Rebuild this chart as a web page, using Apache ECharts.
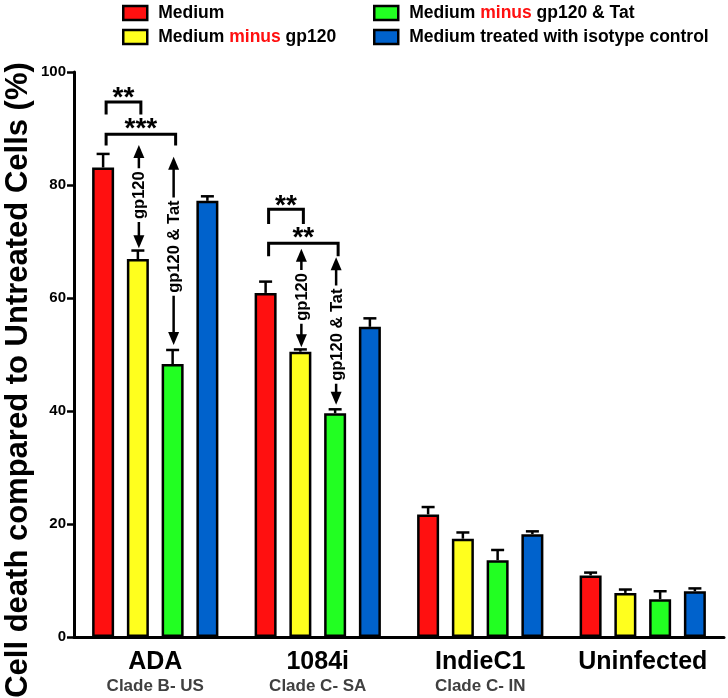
<!DOCTYPE html>
<html><head><meta charset="utf-8">
<script src="https://cdn.jsdelivr.net/npm/echarts@6/dist/echarts.min.js"></script>
<style>html,body{margin:0;padding:0;background:#fff}#c{width:728px;height:698px}</style>
</head><body><div id="c"></div>
<script>
// ---- data ----
const categories = ['ADA', '1084i', 'IndieC1', 'Uninfected'];
const clades = ['Clade B- US', 'Clade C- SA', 'Clade C- IN', ''];
const seriesNames = ['Medium', 'Medium minus gp120', 'Medium minus gp120 & Tat', 'Medium treated with isotype control'];
const medium = [83.1, 60.9, 21.7, 10.9];
const minusGp120 = [66.9, 50.5, 17.4, 7.8];
const minusGp120Tat = [48.3, 39.6, 13.6, 6.7];
const isotype = [77.2, 54.9, 18.2, 8.1];
const mediumErr = [2.4, 2.0, 1.3, 0.5];
const minusGp120Err = [1.5, 0.4, 1.1, 0.6];
const minusGp120TatErr = [2.5, 0.7, 1.8, 1.4];
const isotypeErr = [0.8, 1.5, 0.5, 0.5];
const yTicks = [0, 20, 40, 60, 80, 100];
// significance brackets: [category, fromSeries, toSeries, bracketY, legEndY, label, labelY]
const brackets = [
  [0, 0, 1, 94.7, 92.5, '**', 95.4],
  [0, 0, 2, 89.0, 87.0, '***', 89.9],
  [1, 0, 1, 75.7, 73.1, '**', 76.3],
  [1, 0, 2, 69.7, 67.4, '**', 70.5]
];
// arrows: [category, series, topTipY, textCenterY, bottomTipY, label]
const arrows = [
  [0, 1, 87.1, 78.2, 68.8, 'gp120'],
  [0, 2, 85.0, 69.1, 51.7, 'gp120 & Tat'],
  [1, 1, 68.7, 60.2, 51.3, 'gp120'],
  [1, 2, 67.2, 53.5, 41.1, 'gp120 & Tat']
];

const values = [medium, minusGp120, minusGp120Tat, isotype];
const errors = [mediumErr, minusGp120Err, minusGp120TatErr, isotypeErr];
const colors = ['#ff1010', '#ffff1e', '#22ff22', '#0062cc'];
const FONT = '"Liberation Sans", Arial, Helvetica, sans-serif';
const BAR_W = 22, BAR_GAP = 0.58;
const STEP = BAR_W * (1 + BAR_GAP);

function barX(api, cat, si) {
  return api.coord([cat, 0])[0] + (si - 1.5) * STEP;
}

const chart = echarts.init(document.getElementById('c'), null, {renderer: 'canvas'});

const barSeries = values.map((v, i) => ({
  name: seriesNames[i],
  type: 'bar',
  data: v,
  barWidth: BAR_W,
  barGap: (BAR_GAP * 100) + '%',
  itemStyle: {color: colors[i], borderColor: '#000', borderWidth: 2.5},
  z: 2
}));

const errData = [];
values.forEach((v, si) => v.forEach((val, ci) => errData.push([ci, val, errors[si][ci], si])));

const errSeries = {
  type: 'custom',
  data: errData,
  z: 3,
  clip: false,
  renderItem: function (params, api) {
    const ci = api.value(0), val = api.value(1), err = api.value(2), si = api.value(3);
    const x = barX(api, ci, si);
    const y0 = api.coord([ci, val])[1];
    const y1 = api.coord([ci, val + err])[1];
    const st = {stroke: '#000', lineWidth: 2.5};
    return {type: 'group', children: [
      {type: 'line', shape: {x1: x, y1: y0, x2: x, y2: y1}, style: st},
      {type: 'line', shape: {x1: x - 6.5, y1: y1, x2: x + 6.5, y2: y1}, style: st}
    ]};
  }
};

const bracketSeries = {
  type: 'custom',
  data: brackets.map(b => [b[0], b[3]]),
  z: 4,
  clip: false,
  renderItem: function (params, api) {
    const b = brackets[params.dataIndex];
    const xa = barX(api, b[0], b[1]) + 3;
    const xb = barX(api, b[0], b[2]) + 3;
    const yb = api.coord([b[0], b[3]])[1];
    const yl = api.coord([b[0], b[4]])[1];
    const yt = api.coord([b[0], b[6]])[1];
    return {type: 'group', children: [
      {type: 'polyline', shape: {points: [[xa, yl], [xa, yb], [xb, yb], [xb, yl]]},
        style: {stroke: '#000', lineWidth: 3, fill: null}},
      {type: 'text', x: (xa + xb) / 2, y: yt,
        style: {text: b[5], font: 'bold 28px ' + FONT, fill: '#000', align: 'center', verticalAlign: 'middle'}}
    ]};
  }
};

const arrowSeries = {
  type: 'custom',
  data: arrows.map(a => [a[0], a[3]]),
  z: 4,
  clip: false,
  renderItem: function (params, api) {
    const a = arrows[params.dataIndex];
    const x = barX(api, a[0], a[1]) + 1;
    const yTop = api.coord([a[0], a[2]])[1];
    const yMid = api.coord([a[0], a[3]])[1];
    const yBot = api.coord([a[0], a[4]])[1];
    const hw = 5.5, hh = 13;
    return {type: 'group', children: [
      {type: 'line', shape: {x1: x, y1: yTop + 4, x2: x, y2: yBot - 4}, style: {stroke: '#000', lineWidth: 2.5}},
      {type: 'polygon', shape: {points: [[x, yTop], [x - hw, yTop + hh], [x + hw, yTop + hh]]}, style: {fill: '#000'}},
      {type: 'polygon', shape: {points: [[x, yBot], [x - hw, yBot - hh], [x + hw, yBot - hh]]}, style: {fill: '#000'}},
      {type: 'text', x: x + 1, y: yMid, rotation: Math.PI / 2,
        style: {text: a[5], font: 'bold 16.5px ' + FONT, fill: '#000', align: 'center', verticalAlign: 'middle',
          backgroundColor: '#fff', padding: [1, 3, 0, 3]}}
    ]};
  }
};

const legendCommon = {
  orient: 'vertical',
  top: 4,
  padding: 0,
  itemWidth: 24,
  itemHeight: 14,
  itemGap: 6,
  icon: 'rect',
  selectedMode: false,
  itemStyle: {borderColor: '#000', borderWidth: 2.5},
  formatter: n => n.replace('minus', '{r|minus}'),
  textStyle: {
    fontFamily: FONT, fontWeight: 'bold', fontSize: 17.5, color: '#000', padding: [0, 0, 0, 6],
    rich: {r: {fontFamily: FONT, fontWeight: 'bold', fontSize: 17.5, color: '#ff1010'}}
  }
};

const option = {
  animation: false,
  backgroundColor: '#fff',
  grid: {left: 74, right: 4, top: 72, bottom: 61, containLabel: false},
  legend: [
    Object.assign({}, legendCommon, {left: 122, data: [seriesNames[0], seriesNames[1]]}),
    Object.assign({}, legendCommon, {left: 373, data: [seriesNames[2], seriesNames[3]]})
  ],
  xAxis: {
    type: 'category',
    data: categories,
    axisLine: {lineStyle: {color: '#000', width: 3}},
    axisTick: {alignWithLabel: true, length: 7, lineStyle: {color: '#000', width: 2.5}},
    axisLabel: {
      margin: 12,
      formatter: (v, i) => '{a|' + v + '}\n{b|' + clades[i] + '}',
      rich: {
        a: {fontFamily: FONT, fontWeight: 'bold', fontSize: 25, color: '#000', lineHeight: 27},
        b: {fontFamily: FONT, fontWeight: 'bold', fontSize: 17, color: '#404040', lineHeight: 20}
      }
    }
  },
  yAxis: {
    type: 'value',
    min: yTicks[0],
    max: yTicks[yTicks.length - 1],
    interval: yTicks[1] - yTicks[0],
    splitLine: {show: false},
    axisLine: {show: true, lineStyle: {color: '#000', width: 3}},
    axisTick: {show: true, length: 7, lineStyle: {color: '#000', width: 2.5}},
    axisLabel: {margin: 8, fontFamily: FONT, fontWeight: 'bold', fontSize: 15, color: '#000'}
  },
  graphic: [{
    type: 'text',
    x: 18, y: 380, rotation: Math.PI / 2,
    style: {text: 'Cell death compared to Untreated Cells (%)', font: 'bold 31px ' + FONT,
      fill: '#000', align: 'center', verticalAlign: 'middle'}
  }],
  series: barSeries.concat([errSeries, bracketSeries, arrowSeries])
};
chart.setOption(option);
</script>
</body></html>
